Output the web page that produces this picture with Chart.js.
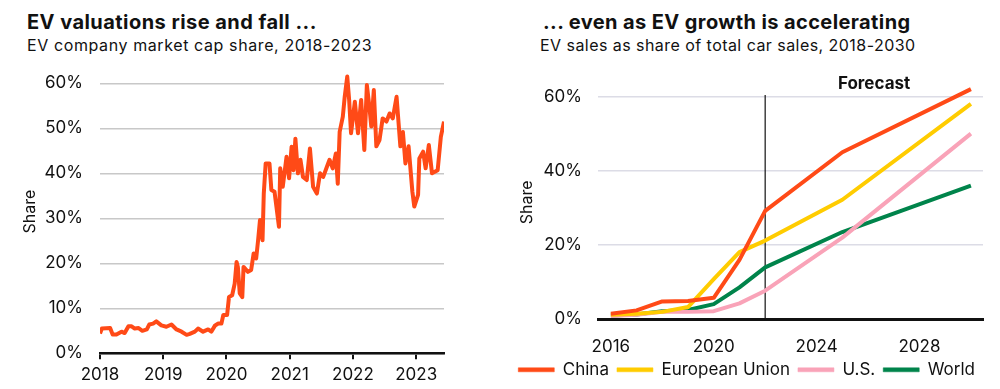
<!DOCTYPE html>
<html>
<head>
<meta charset="utf-8">
<script src="https://cdn.jsdelivr.net/npm/chart.js@4.4.0/dist/chart.umd.min.js"></script>
<style>
body { margin: 0; width: 1000px; height: 389px; background: #fff; position: relative; overflow: hidden; font-family: Inter, sans-serif; color: #111; }
.titulo { position: absolute; font-weight: 700; font-size: 20px; line-height: 20px; letter-spacing: 0.4px; white-space: nowrap; }
.sub { position: absolute; font-size: 16px; line-height: 16px; letter-spacing: 0.45px; white-space: nowrap; }
canvas { position: absolute; top: 0; }
</style>
</head>
<body>
<div class="titulo" style="left:27px;top:12px;letter-spacing:0.45px">EV valuations rise and fall ...</div>
<div class="sub" style="left:27px;top:37px;letter-spacing:0.6px">EV company market cap share, 2018-2023</div>
<div class="titulo" style="left:543px;top:12px">... even as EV growth is accelerating</div>
<div class="sub" style="left:540px;top:37px">EV sales as share of total car sales, 2018-2030</div>
<canvas id="valuaciones" width="500" height="389" style="left:0"></canvas>
<canvas id="ventas" width="500" height="389" style="left:500px"></canvas>
<script>
// Left chart: EV company market cap share (decimal year, %)
const capYears = [2018.00, 2018.03, 2018.16, 2018.20, 2018.26, 2018.34, 2018.39, 2018.45, 2018.50, 2018.55,
    2018.61, 2018.67, 2018.74, 2018.78, 2018.84, 2018.89, 2018.97, 2019.05, 2019.13, 2019.21,
    2019.29, 2019.37, 2019.42, 2019.50, 2019.55, 2019.63, 2019.71, 2019.76, 2019.82, 2019.87,
    2019.92, 2019.95, 2020.01, 2020.04, 2020.09, 2020.13, 2020.16, 2020.18, 2020.21, 2020.25,
    2020.27, 2020.34, 2020.39, 2020.43, 2020.47, 2020.50, 2020.53, 2020.57, 2020.59, 2020.62,
    2020.68, 2020.71, 2020.76, 2020.83, 2020.85, 2020.89, 2020.95, 2020.99, 2021.03, 2021.06,
    2021.09, 2021.13, 2021.17, 2021.21, 2021.27, 2021.32, 2021.37, 2021.43, 2021.48, 2021.53,
    2021.59, 2021.63, 2021.68, 2021.73, 2021.76, 2021.79, 2021.84, 2021.87, 2021.91, 2021.94,
    2021.97, 2022.03, 2022.08, 2022.13, 2022.18, 2022.22, 2022.26, 2022.29, 2022.33, 2022.37,
    2022.42, 2022.47, 2022.53, 2022.58, 2022.63, 2022.69, 2022.75, 2022.79, 2022.83, 2022.88,
    2022.94, 2022.97, 2023.03, 2023.05, 2023.11, 2023.15, 2023.20, 2023.25, 2023.34, 2023.39,
    2023.44];
const capShare = [4.4, 5.5, 5.6, 4.2, 4.2, 4.8, 4.5, 6.0, 6.0, 5.5,
    5.6, 5.0, 5.3, 6.4, 6.6, 7.1, 6.2, 5.9, 6.4, 5.3,
    4.8, 4.1, 4.3, 4.8, 5.5, 4.8, 5.3, 4.8, 6.2, 6.6,
    6.6, 8.5, 8.5, 12.5, 12.9, 15.5, 20.3, 19.2, 13.3, 12.5,
    19.2, 18.1, 18.5, 22.2, 21.1, 25.1, 29.6, 25.1, 35.5, 42.2,
    42.2, 36.3, 35.9, 28.1, 41.1, 37.0, 43.7, 38.9, 45.9, 40.7,
    47.7, 40.0, 43.0, 39.2, 38.5, 45.5, 37.0, 35.5, 40.0, 39.2,
    41.5, 43.0, 41.1, 44.4, 37.7, 49.2, 52.6, 57.0, 61.5, 56.3,
    48.9, 55.9, 48.9, 56.3, 45.2, 59.6, 54.8, 50.4, 58.5, 46.0,
    47.4, 52.2, 51.5, 53.3, 52.2, 57.0, 46.0, 49.2, 42.2, 46.0,
    35.9, 32.6, 35.2, 43.3, 44.8, 41.1, 46.3, 40.0, 40.7, 48.1,
    51.5];
const capXTicks = [2018, 2019, 2020, 2021, 2022, 2023];
const capYTicks = [0, 10, 20, 30, 40, 50, 60];

// Right chart: EV sales as share of total car sales (%)
const salesYears = [2016, 2017, 2018, 2019, 2020, 2021, 2022, 2025, 2030];
const china = [1.5, 2.4, 4.8, 4.9, 5.8, 16.0, 29.2, 45.0, 62.0];
const europeanUnion = [1.2, 1.5, 2.0, 3.3, 10.8, 18.1, 21.2, 32.2, 58.0];
const unitedStates = [0.9, 1.2, 2.0, 2.0, 2.2, 4.3, 7.7, 22.0, 50.0];
const world = [1.0, 1.3, 2.2, 2.5, 4.1, 8.6, 14.0, 23.5, 36.0];
const seriesNames = ['China', 'European Union', 'U.S.', 'World'];
const salesXTicks = [2016, 2020, 2024, 2028];
const salesYTicks = [0, 20, 40, 60];
const forecastYear = 2022;

const fuente = 'Inter';
const tinta = '#111';
const colores = ['#ff4a17', '#ffcc00', '#f9a3b8', '#00844b'];

document.addEventListener("DOMContentLoaded", dibujar);

function puntos(xs, ys){
    return xs.map((x, i) => ({ x: x, y: ys[i] }));
}

const lineaPronostico = {
    id: 'lineaPronostico',
    beforeDatasetsDraw(chart){
        const { ctx, scales } = chart;
        const x = scales.x.getPixelForValue(forecastYear);
        ctx.save();
        ctx.strokeStyle = tinta;
        ctx.lineWidth = 1.2;
        ctx.beginPath();
        ctx.moveTo(x, scales.y.getPixelForValue(60.4));
        ctx.lineTo(x, scales.y.getPixelForValue(0));
        ctx.stroke();
        ctx.restore();
    },
    afterDraw(chart){
        const { ctx, chartArea, scales } = chart;
        const x = scales.x.getPixelForValue(forecastYear);
        ctx.save();
        ctx.fillStyle = tinta;
        ctx.font = 'bold 17px ' + fuente;
        ctx.textAlign = 'center';
        ctx.textBaseline = 'middle';
        ctx.fillText('Forecast', (x + chartArea.right) / 2, chartArea.top - 2);
        ctx.restore();
    }
};

function dibujar(){
    new Chart(document.getElementById('valuaciones'), {
        type: 'line',
        data: {
            datasets: [{
                data: puntos(capYears, capShare),
                borderColor: colores[0],
                borderWidth: 4,
                pointRadius: 0,
                borderJoinStyle: 'round',
                tension: 0
            }]
        },
        options: {
            responsive: false,
            animation: false,
            layout: { padding: { left: 0, right: 56, top: 69.8, bottom: 5.7 } },
            plugins: { legend: { display: false }, tooltip: { enabled: false } },
            scales: {
                x: {
                    type: 'linear',
                    min: 2018,
                    max: 2023.44,
                    afterBuildTicks: s => { s.ticks = capXTicks.map(v => ({ value: v })); },
                    afterFit: s => { s.height = 30; },
                    grid: { display: true, drawOnChartArea: false, drawTicks: true, tickLength: 6, color: tinta, lineWidth: 2 },
                    border: { display: true, color: tinta, width: 2.5 },
                    ticks: { callback: v => String(v), font: { family: fuente, size: 17 }, color: tinta, padding: 5, maxRotation: 0 }
                },
                y: {
                    min: 0,
                    max: 63,
                    afterBuildTicks: s => { s.ticks = capYTicks.map(v => ({ value: v })); },
                    afterFit: s => { s.width = 100; },
                    grid: { color: '#c8c8c8', lineWidth: 1.5, drawTicks: false },
                    border: { display: false },
                    ticks: { callback: v => v + '%', font: { family: fuente, size: 17 }, color: tinta, padding: 17 },
                    title: { display: true, text: 'Share', font: { family: fuente, size: 16 }, color: tinta, padding: { top: 21, bottom: 0 } }
                }
            }
        }
    });

    const valores = [china, europeanUnion, unitedStates, world];
    new Chart(document.getElementById('ventas'), {
        type: 'line',
        data: {
            datasets: valores.map((serie, i) => ({
                label: seriesNames[i],
                data: puntos(salesYears, serie),
                borderColor: colores[i],
                backgroundColor: colores[i],
                borderWidth: 4,
                pointRadius: 0,
                borderJoinStyle: 'round',
                tension: 0
            }))
        },
        options: {
            responsive: false,
            animation: false,
            layout: { padding: { left: 0, right: 17, top: 85.4, bottom: 0.7 } },
            plugins: {
                tooltip: { enabled: false },
                legend: {
                    position: 'bottom',
                    align: 'end',
                    labels: {
                        boxWidth: 36,
                        boxHeight: 4,
                        padding: 8,
                        color: tinta,
                        font: { family: fuente, size: 17 },
                        useBorderRadius: true,
                        borderRadius: 2,
                        generateLabels: chart => chart.data.datasets.map((d, i) => ({
                            text: d.label,
                            fillStyle: d.borderColor,
                            strokeStyle: d.borderColor,
                            lineWidth: 0.5,
                            fontColor: tinta,
                            datasetIndex: i
                        }))
                    }
                }
            },
            scales: {
                x: {
                    type: 'linear',
                    min: 2015.5,
                    max: 2030.47,
                    afterBuildTicks: s => { s.ticks = salesXTicks.map(v => ({ value: v })); },
                    afterFit: s => { s.height = 34; },
                    grid: { display: false, drawTicks: false },
                    border: { display: true, color: tinta, width: 3 },
                    ticks: { callback: v => String(v), font: { family: fuente, size: 17 }, color: tinta, padding: 17, maxRotation: 0 }
                },
                y: {
                    min: 0,
                    max: 63,
                    afterBuildTicks: s => { s.ticks = salesYTicks.map(v => ({ value: v })); },
                    afterFit: s => { s.width = 98; },
                    grid: { color: '#dcdce6', lineWidth: 1.5, drawTicks: false },
                    border: { display: false },
                    ticks: { callback: v => v + '%', font: { family: fuente, size: 17 }, color: tinta, padding: 16 },
                    title: { display: true, text: 'Share', font: { family: fuente, size: 16 }, color: tinta, padding: { top: 18, bottom: 0 } }
                }
            }
        },
        plugins: [lineaPronostico]
    });
}
</script>
</body>
</html>
